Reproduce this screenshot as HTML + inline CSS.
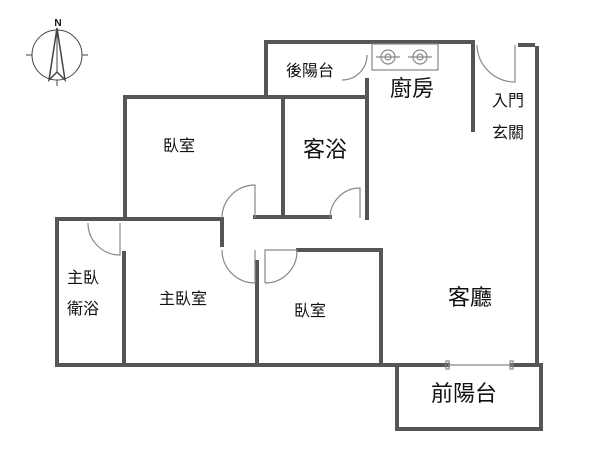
<!DOCTYPE html>
<html><head><meta charset="utf-8"><style>
body{margin:0;background:#fff;}
svg text{font-family:"Liberation Sans","Noto Sans CJK TC",sans-serif;fill:#111;text-anchor:middle;}
</style></head><body>
<svg width="600" height="452" viewBox="0 0 600 452" xmlns="http://www.w3.org/2000/svg">
<rect width="600" height="452" fill="#fff"/>
<g stroke="#555" stroke-width="4" fill="none" stroke-linecap="square">
<!-- back balcony / top -->
<path d="M266 97 V42 H473 V130"/>
<path d="M125 97 H367"/>
<path d="M125 97 V218"/>
<path d="M57 219 H218"/>
<path d="M255 217 H330"/>
<path d="M283 97 V215"/>
<path d="M367 80 V218"/>
<path d="M537 48 V365"/>
<path d="M520 45 H533"/>
<path d="M57 219 V365 H383"/>
<path d="M124 253 V365"/>
<path d="M222 219 V245"/>
<path d="M257 262 V365"/>
<path d="M298 250 H381 V365"/>
<path d="M383 365 H448"/>
<path d="M512 365 H538"/>
<path d="M397 365 V429 H541 V365"/>
</g>
<!-- thin lines: doors, sliding door, stove -->
<g stroke="#888" stroke-width="1.2" fill="none">
<path d="M448 365 H512"/><rect x="446" y="361" width="3" height="8"/><rect x="510" y="361" width="3" height="8"/>
<path d="M222 218 A33 33 0 0 1 255 185 V218"/>
<path d="M330 218 A30 30 0 0 1 360 188 V218"/>
<path d="M88 223 A32 32 0 0 0 120 255 V223"/>
<path d="M222 250 A33 33 0 0 0 255 283 V250"/>
<path d="M265 283 V250 H297 A32 32 0 0 1 265 283"/>
<path d="M477 45 A38 38 0 0 0 515 82 V45"/>
<path d="M367 55 A25 25 0 0 1 342 80" />
<rect x="372" y="44" width="66" height="26"/>
<circle cx="388" cy="57" r="7"/><circle cx="388" cy="57" r="3"/>
<circle cx="420" cy="57" r="7"/><circle cx="420" cy="57" r="3"/>
<path d="M376 57 H400 M408 57 H432"/>
</g>
<!-- compass -->
<g stroke="#444" fill="none">
<circle cx="57" cy="55" r="25" stroke-width="1"/>
<path d="M26 55 H32 M82 55 H88 M57 80 V86" stroke-width="1"/>
<path d="M57 28 L49 80 L57 72 L65 80 Z" stroke-width="1.5"/>
<path d="M57 28 V72" stroke-width="1"/>
</g>
<text x="58" y="26" font-size="10" font-weight="bold">N</text>
<g font-size="16">
<text x="310" y="76">後陽台</text>
<text x="179" y="151">臥室</text>
<text x="508" y="106">入門</text>
<text x="508" y="138">玄關</text>
<text x="83" y="283">主臥</text>
<text x="83" y="314">衛浴</text>
<text x="183" y="304">主臥室</text>
<text x="310" y="316">臥室</text>
</g>
<g font-size="22">
<text x="325" y="157">客浴</text>
<text x="412" y="96">廚房</text>
<text x="470" y="305">客廳</text>
<text x="464" y="401">前陽台</text>
</g>
</svg>
</body></html>
